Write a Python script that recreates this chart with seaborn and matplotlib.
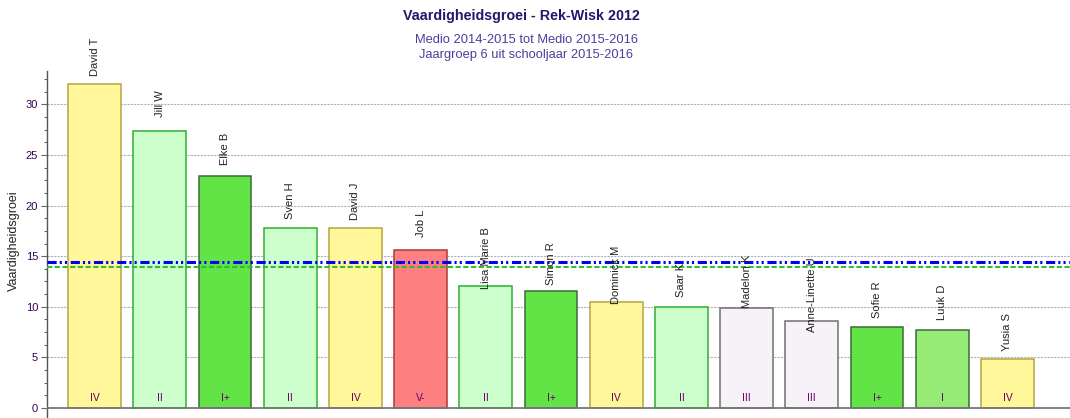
import pandas as pd
import numpy as np
import matplotlib
matplotlib.use('Agg')
import matplotlib.pyplot as plt
from matplotlib.ticker import MultipleLocator
import seaborn as sns

# data
namen = ['David T', 'Jill W', 'Elke B', 'Sven H', 'David J', 'Job L', 'Lisa Marie B',
         'Simon R', 'Dominick M', 'Saar K', 'Madelon K', 'Anne-Linette U', 'Sofie R',
         'Luuk D', 'Yusia S']
groei = [32.0, 27.4, 22.9, 17.8, 17.8, 15.6, 12.1, 11.6, 10.5, 9.95, 9.85, 8.55, 8.0, 7.75, 4.8]
niveau = ['IV', 'II', 'I+', 'II', 'IV', 'V-', 'II', 'I+', 'IV', 'II', 'III', 'III', 'I+', 'I', 'IV']
gemiddelde_groep = 14.38
gemiddelde_landelijk = 13.95

fill_kleur = {'IV': '#FFF799', 'II': '#CCFFCC', 'I+': '#62E346', 'V-': '#FF8080',
              'III': '#F7F2F7', 'I': '#95EB75'}
rand_kleur = {'IV': '#B5A642', 'II': '#2FAF2F', 'I+': '#3A6B3A', 'V-': '#A83A3A',
              'III': '#707070', 'I': '#3A6B3A'}

df = pd.DataFrame({'naam': namen, 'groei': groei, 'niveau': niveau})

sns.set_style('white')
plt.rcParams['font.family'] = ['Liberation Sans', 'DejaVu Sans']

fig = plt.figure(figsize=(10.7, 4.18), dpi=100)
ax = fig.add_axes([47 / 1070, 0, 1 - 47 / 1070, 1 - 71 / 418])

sns.barplot(data=df, x='naam', y='groei', hue='naam', order=namen, hue_order=namen,
            palette=[fill_kleur[n] for n in niveau], width=0.81, legend=False,
            saturation=1, ax=ax, zorder=3)

for patch, lvl in zip(ax.patches, niveau):
    patch.set_edgecolor(rand_kleur[lvl])
    patch.set_linewidth(1.1)

# labels above and inside the bars
for i, row in df.iterrows():
    ax.annotate(row['naam'], xy=(i, row['groei']), xytext=(0, 27), textcoords='offset pixels',
                rotation=90, ha='center', va='center', fontsize=8, color='#222222', zorder=5)
    ax.annotate(row['niveau'], xy=(i, 0), xytext=(0, 10), textcoords='offset pixels',
                ha='center', va='center', fontsize=7.5, color='#660066', zorder=5)

# average lines
ax.axhline(gemiddelde_groep, color='#0000FF', lw=2.2, dashes=(3, 1, 0.7, 1, 0.7, 1.2), zorder=4)
ax.axhline(gemiddelde_landelijk, color='#33BB33', lw=1.5, dashes=(2.5, 1.2), zorder=4)
ax.axhline(0, color='#777777', lw=1.3, zorder=4)

ax.set_xlim(-0.73, 14.96)
ax.set_ylim(-0.99, 33.3)
ax.yaxis.set_major_locator(MultipleLocator(5))
ax.yaxis.set_minor_locator(MultipleLocator(1.25))
ax.set_xticks([])
ax.set_xlabel('')
ax.set_ylabel('Vaardigheidsgroei', fontsize=9, color='#222222')
ax.yaxis.set_label_coords(-0.0264, 0.51)

for y in range(5, 35, 5):
    ax.axhline(y, color='#B0B0B0', lw=0.8, ls=(0, (2, 1)), zorder=1)

ax.tick_params(axis='y', which='major', direction='out', length=4.5, width=0.8,
               color='#666666', labelsize=8, labelcolor='#330055', left=True, pad=2)
ax.tick_params(axis='y', which='minor', direction='out', length=2.2, width=0.8,
               color='#666666', left=True)
for s in ['top', 'right', 'bottom']:
    ax.spines[s].set_visible(False)
ax.spines['left'].set_color('#555555')
ax.spines['left'].set_linewidth(1)

fig.text(0.487, 1 - 16 / 418, 'Vaardigheidsgroei - Rek-Wisk 2012', ha='center', va='center',
         fontsize=10.3, fontweight='bold', color='#1F1A6B')
fig.text(0.4916, 1 - 40 / 418, 'Medio 2014-2015 tot Medio 2015-2016', ha='center', va='center',
         fontsize=9.3, color='#4A3F9B')
fig.text(0.4916, 1 - 55 / 418, 'Jaargroep 6 uit schooljaar 2015-2016', ha='center', va='center',
         fontsize=9.3, color='#4A3F9B')

fig.savefig('out.png', dpi=100)
plt.close(fig)
